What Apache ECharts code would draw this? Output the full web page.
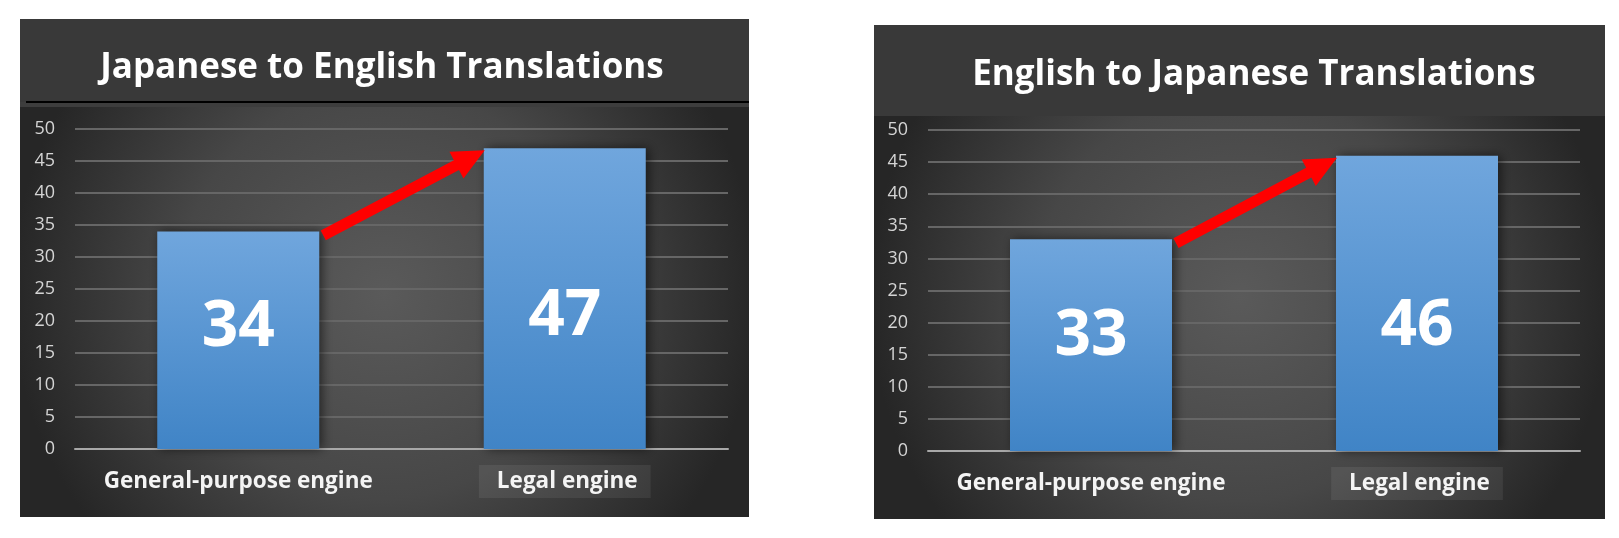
<!DOCTYPE html>
<html><head><meta charset="UTF-8">
<title>Translations</title>
<script src="https://cdn.jsdelivr.net/npm/echarts@6/dist/echarts.min.js"></script>
<style>
  *{ padding:0; margin:0; }
  html, body{ width:100%; height:100%; background:#fff; }
  #main{ width:1619px; height:538px; }
</style>
</head>
<body>
<div id="main"></div>
<script>
// data
var categories = ['General-purpose engine', 'Legal engine'];
var titles = ['Japanese to English Translations', 'English to Japanese Translations'];
var jaToEn = [34, 47];
var enToJa = [33, 46];
var yMin = 0, yMax = 50, yStep = 5;

var FONT = '"Open Sans", "Liberation Sans", sans-serif';

// panel layout (pixels)
var panels = [
  { x: 20, y: 19, w: 729, h: 498, band: 83, left: 75, top: 129, width: 653, height: 320,
    titleX: 377, titleTop: 46, line: true, offs: [[0, -12], [0, 18]], values: jaToEn },
  { x: 874, y: 25, w: 731, h: 494, band: 91, left: 928, top: 130, width: 652, height: 321,
    titleX: 1249, titleTop: 53, line: false, offs: [[0, -8], [0, 23]], values: enToJa }
];

var chart = echarts.init(document.getElementById('main'));

var labelText = { color: '#f4f4f4', fontSize: 22.5, fontWeight: 'bold', fontFamily: FONT };

var grids = [], xAxes = [], yAxes = [], series = [], titleList = [];
panels.forEach(function (p, i) {
  grids.push({ left: p.left, top: p.top, width: p.width, height: p.height });
  titleList.push({
    text: titles[i], left: p.titleX, top: p.titleTop, textAlign: 'center',
    textStyle: { color: '#ffffff', fontSize: 35, fontWeight: 'bold', fontFamily: FONT }
  });
  xAxes.push({
    type: 'category', gridIndex: i, data: categories,
    axisTick: { show: false },
    axisLine: { lineStyle: { color: '#a8a8a8', width: 2 } },
    axisLabel: {
      interval: 0, hideOverlap: false, margin: 16,
      color: '#f4f4f4', fontSize: 22.5, fontWeight: 'bold', fontFamily: FONT,
      formatter: function (v, idx) { return idx === 1 ? '{box|' + v + '}' : '{a|' + v + '}'; },
      rich: {
        a: Object.assign({ padding: [5, 4, 5, 4] }, labelText),
        box: Object.assign({ backgroundColor: 'rgba(255,255,255,0.07)', padding: [5, 13, 5, 18] }, labelText)
      }
    }
  });
  yAxes.push({
    type: 'value', gridIndex: i, min: yMin, max: yMax, interval: yStep,
    axisLine: { show: false }, axisTick: { show: false },
    axisLabel: { margin: 20, color: '#d4d4d4', fontSize: 18, fontFamily: FONT },
    splitLine: { lineStyle: { color: '#666666', width: 2 } }
  });
  series.push({
    type: 'bar', xAxisIndex: i, yAxisIndex: i, barWidth: 162,
    data: p.values.map(function (v, j) {
      return { value: v, label: { offset: p.offs[j] } };
    }),
    itemStyle: {
      color: new echarts.graphic.LinearGradient(0, 0, 0, 1, [
        { offset: 0, color: '#70a6dd' },
        { offset: 1, color: '#4084c6' }
      ]),
      shadowColor: 'rgba(0,0,0,0.55)', shadowBlur: 10, shadowOffsetX: 3, shadowOffsetY: 0
    },
    label: {
      show: true, position: 'inside', color: '#ffffff',
      fontSize: 64, fontWeight: 'bold', fontFamily: FONT
    },
    emphasis: { disabled: true }
  });
});

chart.setOption({
  animation: false,
  title: titleList,
  grid: grids,
  xAxis: xAxes,
  yAxis: yAxes,
  series: series
});

// backgrounds and the red arrows
var graphics = [];
panels.forEach(function (p, i) {
  graphics.push({
    type: 'rect', z: -100, shape: { x: p.x, y: p.y, width: p.w, height: p.h },
    style: {
      fill: new echarts.graphic.RadialGradient(0.5, 0.55, 0.75, [
        { offset: 0, color: '#5a5a5a' },
        { offset: 0.55, color: '#474747' },
        { offset: 1, color: '#262626' }
      ])
    }
  });
  graphics.push({
    type: 'rect', z: -99, shape: { x: p.x, y: p.y, width: p.w, height: p.band },
    style: { fill: '#393939' }
  });
  if (p.line) {
    graphics.push({
      type: 'rect', z: -98, shape: { x: p.x, y: p.y + p.band, width: p.w, height: 5 },
      style: { fill: '#3d3d3d' }
    });
    graphics.push({
      type: 'line', z: -97,
      shape: { x1: p.x + 6, y1: p.y + p.band, x2: p.x + p.w, y2: p.y + p.band },
      style: { stroke: '#000000', lineWidth: 2 }
    });
  }

  var half = 81;
  var a = chart.convertToPixel({ gridIndex: i }, [0, p.values[0]]);
  var b = chart.convertToPixel({ gridIndex: i }, [1, p.values[1]]);
  var x0 = a[0] + half + 4, y0 = a[1] + 4;
  var x1 = b[0] - half + 1, y1 = b[1] + 2;
  var dx = x1 - x0, dy = y1 - y0, len = Math.sqrt(dx * dx + dy * dy);
  var ux = dx / len, uy = dy / len, nx = -uy, ny = ux;
  var sw = 5.5, hl = 32, hw = 15;
  var bx = x1 - ux * hl, by = y1 - uy * hl;
  graphics.push({
    type: 'polygon', z: 100,
    shape: {
      points: [
        [x0 + nx * sw, y0 + ny * sw],
        [bx + nx * sw, by + ny * sw],
        [bx + nx * hw, by + ny * hw],
        [x1, y1],
        [bx - nx * hw, by - ny * hw],
        [bx - nx * sw, by - ny * sw],
        [x0 - nx * sw, y0 - ny * sw]
      ]
    },
    style: { fill: '#ff0000' }
  });
});

chart.setOption({ graphic: graphics });
</script>
</body></html>
